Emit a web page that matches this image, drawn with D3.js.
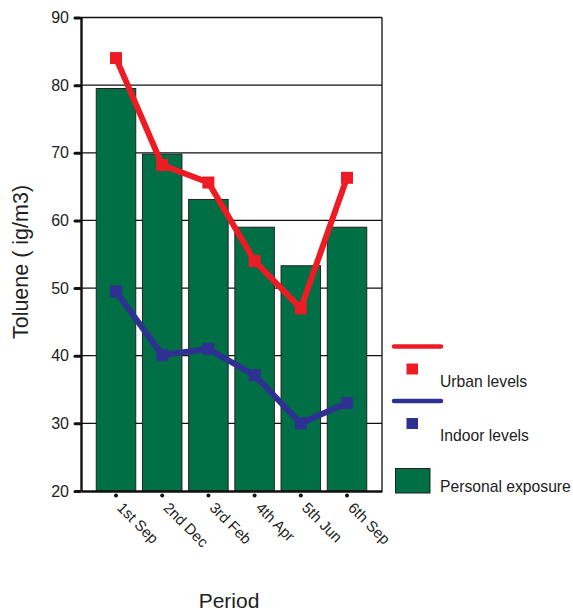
<!DOCTYPE html>
<html>
<head>
<meta charset="utf-8">
<script src="https://cdn.jsdelivr.net/npm/d3@7/dist/d3.min.js"></script>
<style>
  html, body { margin: 0; padding: 0; background: #fff; }
  svg { display: block; font-family: "Liberation Sans", Arial, Helvetica, sans-serif; }
</style>
</head>
<body>
<svg id="chart" width="573" height="614"></svg>
<script>
// Toluene concentrations by sampling period
const periods = ["1st Sep", "2nd Dec", "3rd Feb", "4th Apr", "5th Jun", "6th Sep"];
const personalExposure = [79.5, 69.8, 63.1, 59.0, 53.3, 59.0];
const urbanLevels = [84.0, 68.2, 65.6, 54.0, 47.0, 66.3];
const indoorLevels = [49.5, 40.1, 41.0, 37.1, 30.0, 33.0];
const yTicks = [20, 30, 40, 50, 60, 70, 80, 90];

const colors = { urban: "#ED1C24", indoor: "#2E3192", personal: "#006F45" };

const svg = d3.select("#chart");
const plot = { left: 81, right: 382, top: 17.5, bottom: 491 };

const y = d3.scaleLinear().domain([20, 90]).range([plot.bottom, plot.top]);
const x = d3.scaleBand().domain(periods)
  .range([plot.left, plot.right])
  .paddingInner(0.145)
  .paddingOuter(0.33);
const cx = d => x(d) + x.bandwidth() / 2;

// horizontal gridlines
svg.append("g")
  .selectAll("line")
  .data(yTicks.filter(t => t > 20))
  .join("line")
  .attr("x1", plot.left).attr("x2", plot.right)
  .attr("y1", d => y(d)).attr("y2", d => y(d))
  .attr("stroke", "#111").attr("stroke-width", 1.3);

// right border
svg.append("line")
  .attr("x1", plot.right).attr("x2", plot.right)
  .attr("y1", plot.top).attr("y2", plot.bottom)
  .attr("stroke", "#111").attr("stroke-width", 1.3);

// bars
svg.append("g")
  .selectAll("rect")
  .data(periods.map((p, i) => ({ p, v: personalExposure[i] })))
  .join("rect")
  .attr("x", d => x(d.p))
  .attr("y", d => y(d.v))
  .attr("width", x.bandwidth())
  .attr("height", d => y(20) - y(d.v))
  .attr("fill", colors.personal)
  .attr("stroke", "#222").attr("stroke-width", 1);

// y axis
const yAxis = d3.axisLeft(y).tickValues(yTicks).tickSize(0).tickPadding(12);
const gy = svg.append("g").attr("transform", `translate(${plot.left},0)`).call(yAxis);
gy.select(".domain").attr("stroke", "#111").attr("stroke-width", 2.4);
gy.selectAll("text").attr("font-size", 16).attr("fill", "#222")
  .attr("font-family", "Liberation Sans, Arial, sans-serif");
gy.selectAll(".tick").append("line")
  .attr("x1", -6).attr("x2", -1)
  .attr("stroke", "#111").attr("stroke-width", 3).attr("stroke-linecap", "round");

// x axis
const xAxis = d3.axisBottom(x).tickSize(0).tickFormat("");
const gx = svg.append("g").attr("transform", `translate(0,${plot.bottom})`).call(xAxis);
gx.select(".domain").attr("stroke", "#111").attr("stroke-width", 2.4);
gx.selectAll(".tick").append("circle")
  .attr("cy", 4.5).attr("r", 2).attr("fill", "#111");
gx.selectAll(".tick").append("text")
  .attr("transform", "translate(4,14) rotate(45)")
  .attr("text-anchor", "start")
  .attr("dy", "0.35em")
  .attr("font-size", 15)
  .attr("font-family", "Liberation Sans, Arial, sans-serif")
  .attr("fill", "#222")
  .text(d => d);

// lines with square markers
function series(values, color) {
  const pts = periods.map((p, i) => [cx(p), y(values[i])]);
  svg.append("path")
    .attr("d", d3.line()(pts))
    .attr("fill", "none")
    .attr("stroke", color)
    .attr("stroke-width", 6)
    .attr("stroke-linejoin", "round");
  svg.append("g").selectAll("rect")
    .data(pts)
    .join("rect")
    .attr("x", d => d[0] - 6).attr("y", d => d[1] - 6)
    .attr("width", 12).attr("height", 12)
    .attr("fill", color);
}
series(urbanLevels, colors.urban);
series(indoorLevels, colors.indoor);

// legend
const lg = svg.append("g").attr("font-size", 15.7).attr("fill", "#222");
lg.append("line").attr("x1", 394).attr("x2", 441).attr("y1", 346.5).attr("y2", 346.5)
  .attr("stroke", colors.urban).attr("stroke-width", 4.5).attr("stroke-linecap", "round");
lg.append("rect").attr("x", 406.5).attr("y", 363.5).attr("width", 11.5).attr("height", 11)
  .attr("fill", colors.urban);
lg.append("text").attr("x", 440).attr("y", 387).text("Urban levels");
lg.append("line").attr("x1", 394).attr("x2", 441).attr("y1", 401).attr("y2", 401)
  .attr("stroke", colors.indoor).attr("stroke-width", 4.5).attr("stroke-linecap", "round");
lg.append("rect").attr("x", 406.5).attr("y", 418).attr("width", 11.5).attr("height", 11)
  .attr("fill", colors.indoor);
lg.append("text").attr("x", 440).attr("y", 440.5).text("Indoor levels");
lg.append("rect").attr("x", 395.5).attr("y", 468.5).attr("width", 34.5).attr("height", 24.5)
  .attr("fill", colors.personal).attr("stroke", "#222").attr("stroke-width", 1);
lg.append("text").attr("x", 440).attr("y", 492).text("Personal exposure");

// axis titles
svg.append("text")
  .attr("transform", "translate(28,262) rotate(-90)")
  .attr("text-anchor", "middle")
  .attr("font-size", 21.5).attr("fill", "#222")
  .text("Toluene ( ig/m3)");
svg.append("text")
  .attr("x", 229).attr("y", 608)
  .attr("text-anchor", "middle")
  .attr("font-size", 21).attr("fill", "#222")
  .text("Period");
</script>
</body>
</html>
